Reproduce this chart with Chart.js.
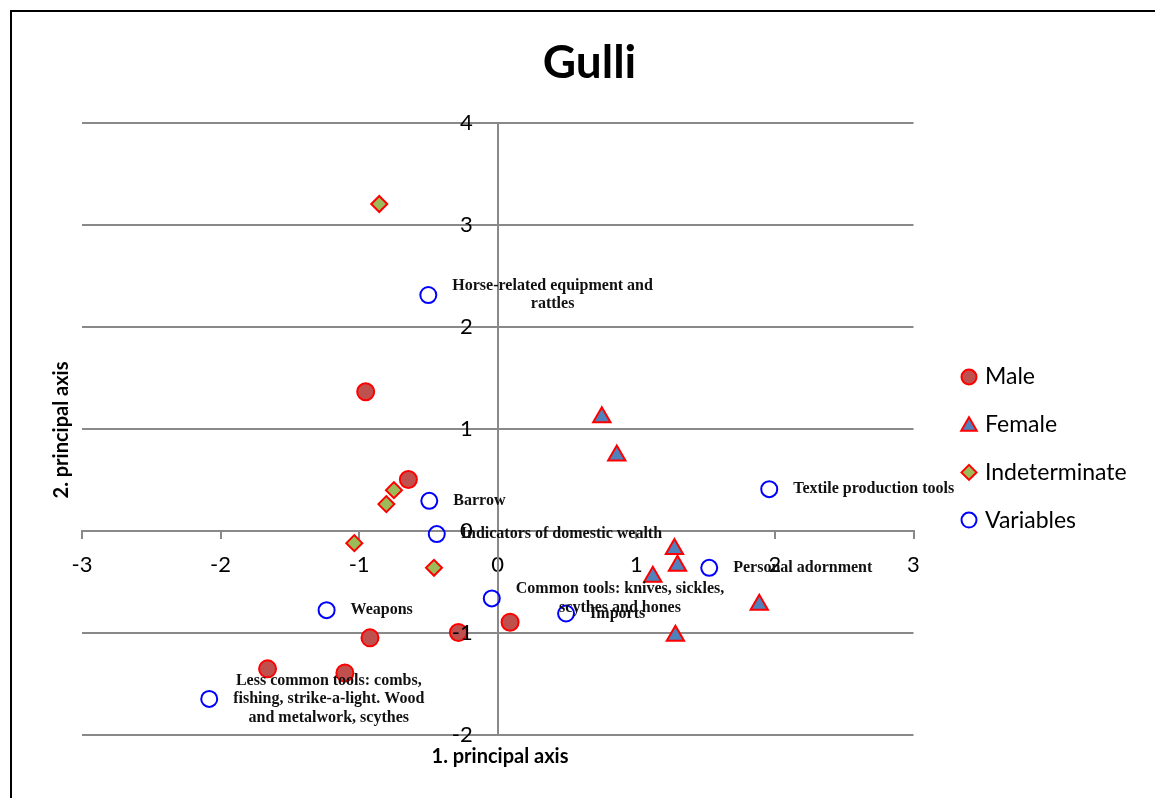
<!DOCTYPE html>
<html>
<head>
<meta charset="utf-8">
<title>Gulli</title>
<script src="https://cdn.jsdelivr.net/npm/chart.js@4.4.1/dist/chart.umd.min.js"></script>
<style>
  html, body { margin: 0; padding: 0; background: #fff; overflow: hidden; width: 1155px; height: 798px; }
  #frame { position: absolute; left: 10px; top: 10px; width: 1155px; height: 800px; border: 2px solid #000; background: #fff; }
  #chart { display: block; }
</style>
</head>
<body>
<div id="frame"><canvas id="chart" width="1155" height="800"></canvas></div>
<script>
// Correspondence analysis scores, first two principal axes
const maleX = [-0.953, -0.645, -0.922, -0.284, 0.089, -1.661, -1.103];
const maleY = [1.367, 0.507, -1.047, -0.994, -0.893, -1.351, -1.391];

const femaleX = [0.751, 0.859, 1.275, 1.297, 1.119, 1.887, 1.282];
const femaleY = [1.117, 0.741, -0.176, -0.339, -0.447, -0.721, -1.026];

const indeterminateX = [-0.855, -0.749, -0.804, -1.035, -0.460];
const indeterminateY = [3.209, 0.402, 0.265, -0.118, -0.360];

const variableNames = [
  ['Horse-related equipment and', 'rattles'],
  ['Barrow'],
  ['Indicators of domestic wealth'],
  ['Textile production tools'],
  ['Personal adornment'],
  ['Common tools: knives, sickles,', 'scythes and hones'],
  ['Imports'],
  ['Weapons'],
  ['Less common tools: combs,', 'fishing, strike-a-light. Wood', 'and metalwork, scythes']
];
const variableX = [-0.501, -0.494, -0.440, 1.959, 1.526, -0.043, 0.493, -1.235, -2.082];
const variableY = [2.316, 0.297, -0.029, 0.412, -0.360, -0.660, -0.808, -0.775, -1.646];

const xTickValues = [-3, -2, -1, 0, 1, 2, 3];
const yTickValues = [-2, -1, 0, 1, 2, 3, 4];

const seriesNames = ['Male', 'Female', 'Indeterminate', 'Variables'];
const chartTitle = 'Gulli';
const xAxisTitle = '1. principal axis';
const yAxisTitle = '2. principal axis';

const GRID = '#898989';
const toPoints = (xs, ys) => xs.map((x, i) => ({ x: x, y: ys[i] }));

const seriesStyles = [
  { pointStyle: 'circle',   radius: 8.5, fill: '#C0504D', stroke: '#FF0000' },
  { pointStyle: 'triangle', radius: 10,  fill: '#4F81BD', stroke: '#FF0000' },
  { pointStyle: 'rectRot',  radius: 8,   fill: '#9BBB59', stroke: '#FF0000' },
  { pointStyle: 'circle',   radius: 8,   fill: 'rgba(255,255,255,0)', stroke: '#0000FF' }
];

const seriesData = [
  toPoints(maleX, maleY),
  toPoints(femaleX, femaleY),
  toPoints(indeterminateX, indeterminateY),
  toPoints(variableX, variableY)
];

const datasets = seriesNames.map((name, i) => ({
  label: name,
  data: seriesData[i],
  pointStyle: seriesStyles[i].pointStyle,
  pointRadius: seriesStyles[i].radius,
  pointHoverRadius: seriesStyles[i].radius,
  backgroundColor: seriesStyles[i].fill,
  borderColor: seriesStyles[i].stroke,
  pointBorderWidth: 2,
  borderWidth: 2,
  showLine: false
}));

// draws the shapes used in the legend
function drawMarker(ctx, style, x, y, r, fill, stroke) {
  ctx.beginPath();
  if (style === 'circle') {
    ctx.arc(x, y, r, 0, Math.PI * 2);
  } else if (style === 'triangle') {
    let a = 0;
    ctx.moveTo(x + Math.sin(a) * r, y - Math.cos(a) * r);
    a += 2 * Math.PI / 3;
    ctx.lineTo(x + Math.sin(a) * r, y - Math.cos(a) * r);
    a += 2 * Math.PI / 3;
    ctx.lineTo(x + Math.sin(a) * r, y - Math.cos(a) * r);
    ctx.closePath();
  } else if (style === 'rectRot') {
    ctx.moveTo(x, y - r);
    ctx.lineTo(x + r, y);
    ctx.lineTo(x, y + r);
    ctx.lineTo(x - r, y);
    ctx.closePath();
  }
  ctx.fillStyle = fill;
  ctx.fill();
  ctx.lineWidth = 2;
  ctx.strokeStyle = stroke;
  ctx.stroke();
}

// y tick labels sit just left of the vertical axis at x = 0
const yTickLabels = {
  id: 'yTickLabels',
  afterDatasetsDraw(chart) {
    const { ctx, scales: { x, y } } = chart;
    const axisX = x.getPixelForValue(0);
    ctx.save();
    ctx.font = '22px Lato';
    ctx.fillStyle = '#000';
    ctx.textAlign = 'right';
    ctx.textBaseline = 'middle';
    y.ticks.forEach(t => ctx.fillText(String(t.value), axisX - 25, y.getPixelForValue(t.value)));
    ctx.restore();
  }
};

// names of the variables, placed to the right of their points
const variableLabels = {
  id: 'variableLabels',
  afterDatasetsDraw(chart) {
    const ctx = chart.ctx;
    const meta = chart.getDatasetMeta(3);
    const lineHeight = 18.5;
    ctx.save();
    ctx.font = 'bold 16px "Liberation Serif"';
    ctx.fillStyle = '#111';
    ctx.textAlign = 'center';
    ctx.textBaseline = 'middle';
    meta.data.forEach((pt, i) => {
      const lines = variableNames[i];
      const w = Math.max(...lines.map(l => ctx.measureText(l).width));
      const cx = pt.x + 24 + w / 2;
      const top = pt.y - (lines.length - 1) * lineHeight / 2;
      lines.forEach((l, j) => ctx.fillText(l, cx, top + j * lineHeight));
    });
    ctx.restore();
  }
};

// chart title, axis titles and the legend column on the right
const decorations = {
  id: 'decorations',
  afterDraw(chart) {
    const ctx = chart.ctx;
    const area = chart.chartArea;
    ctx.save();
    ctx.fillStyle = '#000';
    ctx.textAlign = 'center';
    ctx.textBaseline = 'middle';
    ctx.font = 'bold 46px Lato';
    ctx.fillText(chartTitle, 577.5, 51.5);
    ctx.font = 'bold 20px Lato';
    ctx.fillText(xAxisTitle, 488, area.bottom + 22);
    ctx.translate(50, 418);
    ctx.rotate(-Math.PI / 2);
    ctx.fillText(yAxisTitle, 0, 0);
    ctx.restore();

    ctx.save();
    ctx.font = '23px Lato';
    ctx.textAlign = 'left';
    ctx.textBaseline = 'middle';
    const legendTop = 365, legendStep = 47.7;
    seriesNames.forEach((name, i) => {
      const yy = legendTop + i * legendStep;
      const s = seriesStyles[i];
      const r = s.pointStyle === 'triangle' ? 9 : 7.5;
      drawMarker(ctx, s.pointStyle, 957, yy + (s.pointStyle === 'triangle' ? 1.5 : 0), r, s.fill, s.stroke);
      ctx.fillStyle = '#000';
      ctx.fillText(name, 973, yy);
    });
    ctx.restore();
  }
};

new Chart(document.getElementById('chart'), {
  type: 'scatter',
  data: { datasets: datasets },
  plugins: [yTickLabels, variableLabels, decorations],
  options: {
    responsive: false,
    animation: false,
    events: [],
    layout: { padding: { left: 70, right: 253.5, top: 111.4, bottom: 77 } },
    plugins: {
      legend: { display: false },
      tooltip: { enabled: false },
      title: { display: false }
    },
    scales: {
      x: {
        type: 'linear',
        position: { y: 0 },
        min: -3,
        max: 3,
        afterBuildTicks: s => { s.ticks = xTickValues.map(v => ({ value: v })); },
        ticks: { color: '#000', font: { family: 'Lato', size: 22 }, padding: 14, maxRotation: 0 },
        grid: { drawOnChartArea: false, drawTicks: true, tickLength: 7, color: GRID, lineWidth: 2 },
        border: { display: true, color: GRID, width: 2 }
      },
      y: {
        type: 'linear',
        position: { x: 0 },
        min: -2,
        max: 4,
        afterBuildTicks: s => { s.ticks = yTickValues.map(v => ({ value: v })); },
        ticks: { display: false },
        grid: { drawOnChartArea: true, drawTicks: true, tickLength: 7, color: GRID, lineWidth: 2 },
        border: { display: true, color: GRID, width: 2 }
      }
    }
  }
});
</script>
</body>
</html>
